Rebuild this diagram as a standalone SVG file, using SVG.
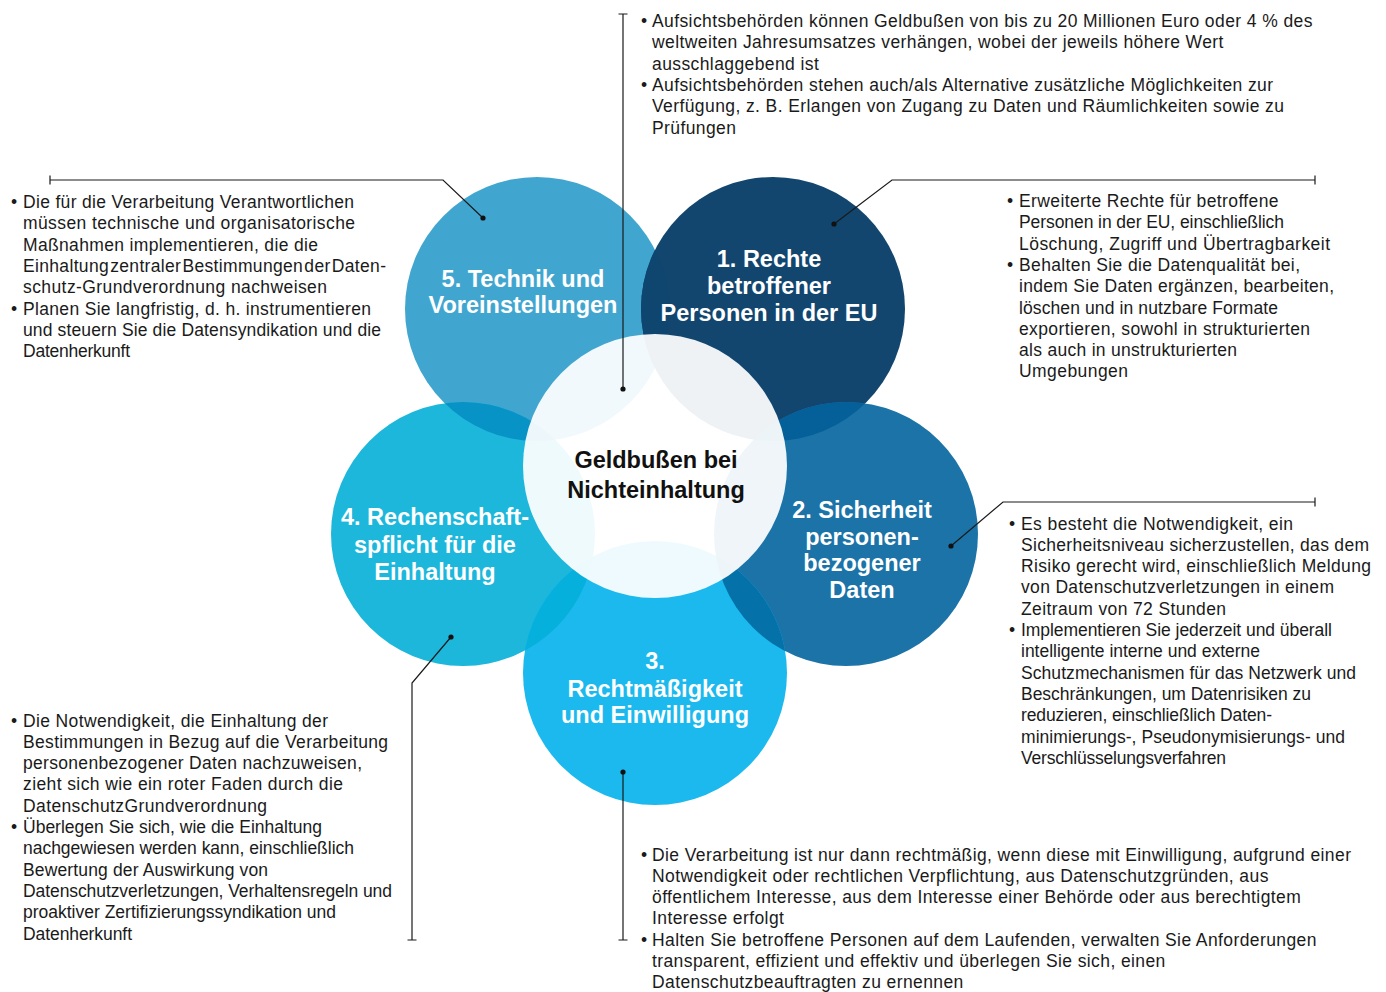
<svg xmlns="http://www.w3.org/2000/svg" width="1386" height="992" viewBox="0 0 1386 992">
  <style>
    .body { font-family: "Liberation Sans", Arial, Helvetica, sans-serif; font-size: 17.5px; letter-spacing: 0.4px; fill: #1a1a1a; }
    .fit { font-family: "Liberation Sans", Arial, Helvetica, sans-serif; font-size: 17.5px; fill: #1a1a1a; }
    .label { font-family: "Liberation Sans", Arial, Helvetica, sans-serif; font-size: 23.5px; font-weight: bold; fill: #ffffff; text-anchor: middle; }
    .core { font-family: "Liberation Sans", Arial, Helvetica, sans-serif; font-size: 23.5px; font-weight: bold; fill: #111111; text-anchor: middle; }
    .wire { fill: none; stroke: #1a1a1a; stroke-width: 1.2; }
    .dot { fill: #111111; }
  </style>
  <defs>
    <clipPath id="clip-c5"><circle cx="537" cy="309" r="132"/></clipPath>
    <clipPath id="clip-c1"><circle cx="773" cy="309" r="132"/></clipPath>
    <clipPath id="clip-c4"><circle cx="463" cy="534" r="132"/></clipPath>
    <clipPath id="clip-c2"><circle cx="846" cy="534" r="132"/></clipPath>
  </defs>

  <rect width="1386" height="992" fill="#ffffff"/>

  <!-- petals -->
  <g id="node-technik">
    <circle cx="537" cy="309" r="132" fill="#41A6CF"/>
  </g>
  <g id="node-rechte">
    <circle cx="773" cy="309" r="132" fill="#12466F"/>
  </g>
  <g id="node-rechenschaft">
    <circle cx="463" cy="534" r="132" fill="#1CB7DB"/>
  </g>
  <g id="node-sicherheit">
    <circle cx="846" cy="534" r="132" fill="#1B73A8"/>
  </g>
  <g id="node-rechtmaessigkeit">
    <circle cx="655" cy="673" r="132" fill="#1BB9EE"/>
  </g>

  <!-- petal overlaps -->
  <g id="overlaps">
    <circle cx="773" cy="309" r="132" fill="#0F4670" clip-path="url(#clip-c5)"/>
    <circle cx="463" cy="534" r="132" fill="#0893C6" clip-path="url(#clip-c5)"/>
    <circle cx="846" cy="534" r="132" fill="#05609A" clip-path="url(#clip-c1)"/>
    <circle cx="655" cy="673" r="132" fill="#05B0DD" clip-path="url(#clip-c4)"/>
    <circle cx="655" cy="673" r="132" fill="#0571A9" clip-path="url(#clip-c2)"/>
  </g>

  <!-- central veil -->
  <g id="node-geldbussen">
    <circle cx="655" cy="466" r="132" fill="#ffffff" fill-opacity="0.93"/>
    <text class="core"><tspan x="656" y="468">Geldbußen bei</tspan><tspan x="656" y="498">Nichteinhaltung</tspan></text>
  </g>

  <!-- petal labels -->
  <text class="label"><tspan x="523" y="287">5. Technik und</tspan><tspan x="523" y="313">Voreinstellungen</tspan></text>
  <text class="label"><tspan x="769" y="267">1. Rechte</tspan><tspan x="769" y="294">betroffener</tspan><tspan x="769" y="321">Personen in der EU</tspan></text>
  <text class="label"><tspan x="435" y="525">4. Rechenschaft-</tspan><tspan x="435" y="552.5">spflicht für die</tspan><tspan x="435" y="580">Einhaltung</tspan></text>
  <text class="label"><tspan x="862" y="518">2. Sicherheit</tspan><tspan x="862" y="544.5">personen-</tspan><tspan x="862" y="571">bezogener</tspan><tspan x="862" y="597.5">Daten</tspan></text>
  <text class="label"><tspan x="655" y="669">3.</tspan><tspan x="655" y="696.5">Rechtmäßigkeit</tspan><tspan x="655" y="722.5">und Einwilligung</tspan></text>

  <!-- callout lines -->
  <g id="connectors">
    <path class="wire" d="M623,14 V389 M618.5,14 H627.5"/>
    <path class="wire" d="M50,180 H443 L483,218 M50,175.5 V184.5"/>
    <path class="wire" d="M1315,180 H892 L834,224 M1315,175.5 V184.5"/>
    <path class="wire" d="M1315,502 H1003 L951,546 M1315,497.5 V506.5"/>
    <path class="wire" d="M412,940 V683 L451,637 M407.5,940 H416.5"/>
    <path class="wire" d="M623,940 V772 M618.5,940 H627.5"/>
    <circle class="dot" cx="623" cy="389" r="2.6"/>
    <circle class="dot" cx="483" cy="218" r="2.6"/>
    <circle class="dot" cx="834" cy="224" r="2.6"/>
    <circle class="dot" cx="951" cy="546" r="2.6"/>
    <circle class="dot" cx="451" cy="637" r="2.6"/>
    <circle class="dot" cx="623" cy="772" r="2.6"/>
  </g>

  <!-- notes: fines -->
  <g id="notes-top">
    <text class="body">
      <tspan x="641" y="27">•</tspan><tspan x="652" y="27">Aufsichtsbehörden können Geldbußen von bis zu 20 Millionen Euro oder 4 % des</tspan>
      <tspan x="652" y="48.3">weltweiten Jahresumsatzes verhängen, wobei der jeweils höhere Wert</tspan>
      <tspan x="652" y="69.6">ausschlaggebend ist</tspan>
      <tspan x="641" y="90.9">•</tspan><tspan x="652" y="90.9">Aufsichtsbehörden stehen auch/als Alternative zusätzliche Möglichkeiten zur</tspan>
      <tspan x="652" y="112.2">Verfügung, z. B. Erlangen von Zugang zu Daten und Räumlichkeiten sowie zu</tspan>
      <tspan x="652" y="133.5">Prüfungen</tspan>
    </text>
  </g>

  <!-- notes: rights -->
  <g id="notes-rechte">
    <text class="fit" x="1007" y="207">•</text>
    <text class="fit" x="1019" y="207" textLength="259.5">Erweiterte Rechte für betroffene</text>
    <text class="fit" x="1019" y="228.3" textLength="265">Personen in der EU, einschließlich</text>
    <text class="fit" x="1019" y="249.6" textLength="311">Löschung, Zugriff und Übertragbarkeit</text>
    <text class="fit" x="1007" y="270.9">•</text>
    <text class="fit" x="1019" y="270.9" textLength="281">Behalten Sie die Datenqualität bei,</text>
    <text class="fit" x="1019" y="292.2" textLength="315">indem Sie Daten ergänzen, bearbeiten,</text>
    <text class="fit" x="1019" y="313.5" textLength="259">löschen und in nutzbare Formate</text>
    <text class="fit" x="1019" y="334.8" textLength="291">exportieren, sowohl in strukturierten</text>
    <text class="fit" x="1019" y="356.1" textLength="218">als auch in unstrukturierten</text>
    <text class="fit" x="1019" y="377.4" textLength="109">Umgebungen</text>
  </g>

  <!-- notes: technology -->
  <g id="notes-technik">
    <text class="fit" x="11" y="208">•</text>
    <text class="fit" x="23" y="208" textLength="331">Die für die Verarbeitung Verantwortlichen</text>
    <text class="fit" x="23" y="229.3" textLength="332">müssen technische und organisatorische</text>
    <text class="fit" x="23" y="250.6" textLength="295">Maßnahmen implementieren, die die</text>
    <text class="fit" x="23" y="271.9" textLength="363" word-spacing="-4">Einhaltung zentraler Bestimmungen der Daten-</text>
    <text class="fit" x="23" y="293.2" textLength="304">schutz-Grundverordnung nachweisen</text>
    <text class="fit" x="11" y="314.5">•</text>
    <text class="fit" x="23" y="314.5" textLength="348">Planen Sie langfristig, d. h. instrumentieren</text>
    <text class="fit" x="23" y="335.8" textLength="358">und steuern Sie die Datensyndikation und die</text>
    <text class="fit" x="23" y="357.1" textLength="107">Datenherkunft</text>
  </g>

  <!-- notes: security -->
  <g id="notes-sicherheit">
    <text class="fit" x="1009" y="529.5">•</text>
    <text class="fit" x="1021" y="529.5" textLength="272">Es besteht die Notwendigkeit, ein</text>
    <text class="fit" x="1021" y="550.8" textLength="348">Sicherheitsniveau sicherzustellen, das dem</text>
    <text class="fit" x="1021" y="572.1" textLength="350">Risiko gerecht wird, einschließlich Meldung</text>
    <text class="fit" x="1021" y="593.4" textLength="313">von Datenschutzverletzungen in einem</text>
    <text class="fit" x="1021" y="614.7" textLength="205">Zeitraum von 72 Stunden</text>
    <text class="fit" x="1009" y="636">•</text>
    <text class="fit" x="1021" y="636" textLength="311">Implementieren Sie jederzeit und überall</text>
    <text class="fit" x="1021" y="657.3" textLength="239">intelligente interne und externe</text>
    <text class="fit" x="1021" y="678.6" textLength="335">Schutzmechanismen für das Netzwerk und</text>
    <text class="fit" x="1021" y="699.9" textLength="290">Beschränkungen, um Datenrisiken zu</text>
    <text class="fit" x="1021" y="721.2" textLength="251">reduzieren, einschließlich Daten-</text>
    <text class="fit" x="1021" y="742.5" textLength="324">minimierungs-, Pseudonymisierungs- und</text>
    <text class="fit" x="1021" y="763.8" textLength="205">Verschlüsselungsverfahren</text>
  </g>

  <!-- notes: accountability -->
  <g id="notes-rechenschaft">
    <text class="fit" x="11" y="726.5">•</text>
    <text class="fit" x="23" y="726.5" textLength="305">Die Notwendigkeit, die Einhaltung der</text>
    <text class="fit" x="23" y="747.8" textLength="365">Bestimmungen in Bezug auf die Verarbeitung</text>
    <text class="fit" x="23" y="769.1" textLength="339">personenbezogener Daten nachzuweisen,</text>
    <text class="fit" x="23" y="790.4" textLength="320">zieht sich wie ein roter Faden durch die</text>
    <text class="fit" x="23" y="811.7" textLength="244">DatenschutzGrundverordnung</text>
    <text class="fit" x="11" y="833">•</text>
    <text class="fit" x="23" y="833" textLength="299">Überlegen Sie sich, wie die Einhaltung</text>
    <text class="fit" x="23" y="854.3" textLength="331">nachgewiesen werden kann, einschließlich</text>
    <text class="fit" x="23" y="875.6" textLength="245">Bewertung der Auswirkung von</text>
    <text class="fit" x="23" y="896.9" textLength="369">Datenschutzverletzungen, Verhaltensregeln und</text>
    <text class="fit" x="23" y="918.2" textLength="313">proaktiver Zertifizierungssyndikation und</text>
    <text class="fit" x="23" y="939.5" textLength="109">Datenherkunft</text>
  </g>

  <!-- notes: lawfulness -->
  <g id="notes-rechtmaessigkeit">
    <text class="body">
      <tspan x="641" y="860.5">•</tspan><tspan x="652" y="860.5">Die Verarbeitung ist nur dann rechtmäßig, wenn diese mit Einwilligung, aufgrund einer</tspan>
      <tspan x="652" y="881.8">Notwendigkeit oder rechtlichen Verpflichtung, aus Datenschutzgründen, aus</tspan>
      <tspan x="652" y="903.1">öffentlichem Interesse, aus dem Interesse einer Behörde oder aus berechtigtem</tspan>
      <tspan x="652" y="924.4">Interesse erfolgt</tspan>
      <tspan x="641" y="945.7">•</tspan><tspan x="652" y="945.7">Halten Sie betroffene Personen auf dem Laufenden, verwalten Sie Anforderungen</tspan>
      <tspan x="652" y="967">transparent, effizient und effektiv und überlegen Sie sich, einen</tspan>
      <tspan x="652" y="988.3">Datenschutzbeauftragten zu ernennen</tspan>
    </text>
  </g>
</svg>
